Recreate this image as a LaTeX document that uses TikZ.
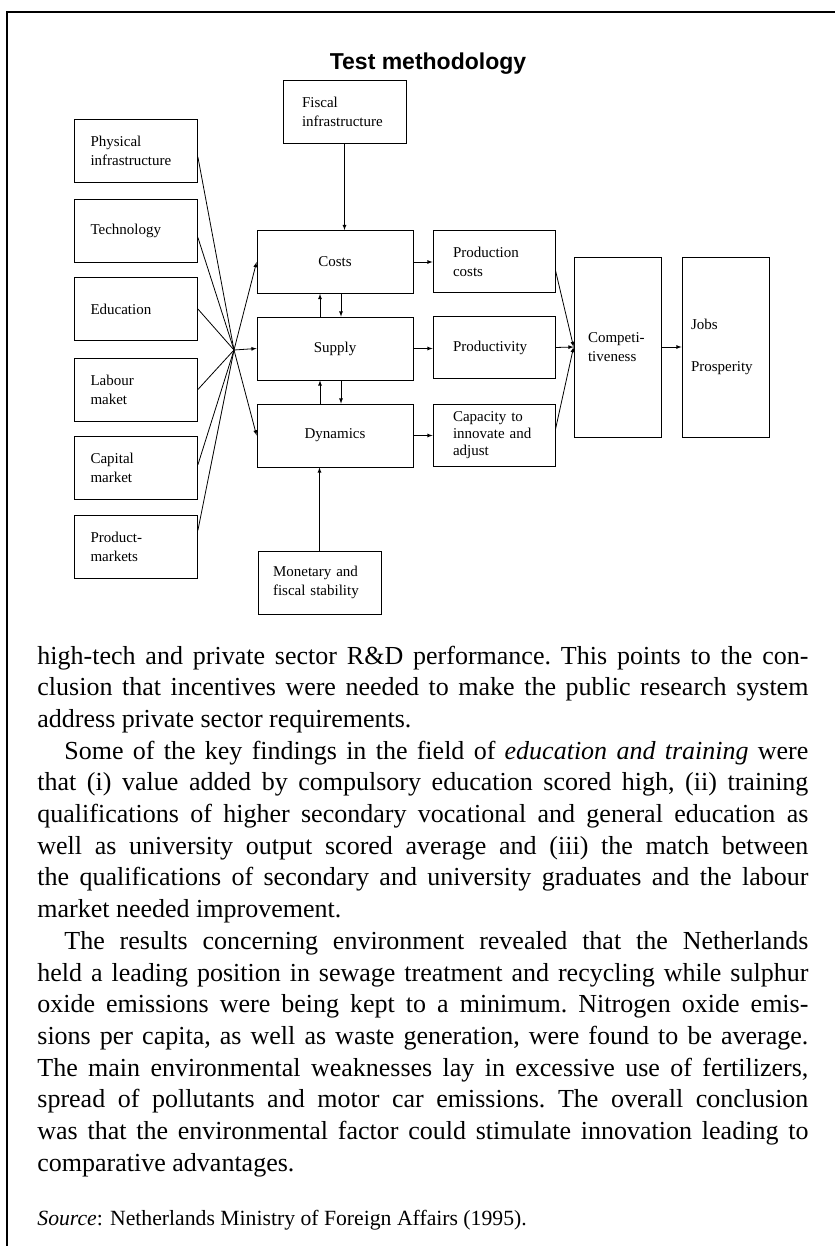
\documentclass[tikz,border=0pt]{standalone}
\usepackage{fontspec}
\setmainfont{Liberation Serif}
\newfontfamily\headfont{Liberation Sans}

\begin{document}
\begin{tikzpicture}[x=1pt, y=-1pt, line width=0.8pt,
	boxfont/.style={font=\fontsize{15}{19}\selectfont},
	factor/.style={draw, boxfont, minimum width=123pt, minimum height=63pt, text width=91pt, inner xsep=16pt, inner ysep=0pt, align=left},
	core/.style={draw, boxfont, minimum width=156pt, minimum height=63pt, align=center},
	result/.style={draw, boxfont, minimum width=122pt, minimum height=62pt, text width=82pt, inner xsep=20pt, inner ysep=0pt, align=left},
	sidebox/.style={draw, boxfont, minimum width=123pt, minimum height=63pt, inner ysep=0pt, align=left},
	tallbox/.style={draw, boxfont, minimum width=87pt, minimum height=180pt, inner ysep=0pt, align=left},
	arr/.style={-latex}]
	\useasboundingbox (0,0) rectangle (835,1246);

	% frame
	\draw[line width=1.4pt] (7,1246) -- (7,12) -- (835,12);
	\node[font=\headfont\bfseries\fontsize{23}{27}\selectfont, anchor=base] (title) at (428,70) {Test methodology};

	% (factors)
	\node[factor] (phys) at (136,150.5) {Physical\\infrastructure};
	\node[factor] (tech) at (136,231) {Technology};
	\node[factor] (edu) at (136,309) {Education};
	\node[factor] (lab) at (136,389.5) {Labour\\maket};
	\node[factor] (capm) at (136,468) {Capital\\market};
	\node[factor] (prodm) at (136,547) {Product-\\markets};
	\coordinate (hub) at (234,350);

	% (core)
	\node[sidebox, text width=85pt, inner xsep=19pt] (fisc) at (344.5,111.5) {Fiscal\\infrastructure};
	\node[core] (costs) at (335,262) {Costs};
	\node[core] (supply) at (335,348.5) {Supply};
	\node[core] (dyn) at (335,435.5) {Dynamics};
	\node[sidebox, text width=93pt, inner xsep=15pt] (mon) at (319.5,582.5) {Monetary and\\fiscal stability};

	% (results)
	\node[result] (pc) at (494,261.5) {Production\\costs};
	\node[result] (prodv) at (494,347.5) {Productivity};
	\node[result, font=\fontsize{15}{17}\selectfont] (capac) at (494,435) {Capacity to\\innovate and\\adjust};
	\node[tallbox, text width=59pt, inner xsep=14pt] (comp) at (617.5,347) {Competi-\\tiveness};
	\node[tallbox, text width=69pt, inner xsep=9pt] (jobs) at (725.5,347) {Jobs\\[23pt]Prosperity};

	\draw (phys.-6) -- (hub);
	\draw (tech.-6) -- (hub);
	\draw (edu.east) -- (hub);
	\draw (lab.east) -- (hub);
	\draw (capm.3) -- (hub);
	\draw (prodm.15) -- (hub);
	\draw[arr] (hub) -- (costs.west);
	\draw[arr] (hub) -- (supply.west);
	\draw[arr] (hub) -- (dyn.west);

	\draw[arr] (fisc.south) -- (fisc.south |- costs.north);
	\draw[arr] (mon.north) -- (mon.north |- dyn.south);
	\draw[arr] ([xshift=-15pt]supply.north) -- ([xshift=-15pt]costs.south);
	\draw[arr] ([xshift=6pt]costs.south) -- ([xshift=6pt]supply.north);
	\draw[arr] ([xshift=-15pt]dyn.north) -- ([xshift=-15pt]supply.south);
	\draw[arr] ([xshift=6pt]supply.south) -- ([xshift=6pt]dyn.north);

	\draw[arr] (costs.east) -- (costs.east -| pc.west);
	\draw[arr] (supply.east) -- (supply.east -| prodv.west);
	\draw[arr] (dyn.east) -- (dyn.east -| capac.west);
	\draw[arr] (pc.-8) -- (comp.west);
	\draw[arr] (prodv.east) -- (comp.west);
	\draw[arr] (capac.5) -- (comp.west);
	\draw[arr] (comp.east) -- (jobs.west);

	% text below
	\node[anchor=base west, inner sep=0pt, text width=771pt, align=justify, font=\fontsize{26}{31.7}\selectfont] (body) at (37,664) {\frenchspacing\hyphenpenalty=10000 \tolerance=9999
high-tech and private sector R\&D performance. This points to the con-\linebreak
clusion that incentives were needed to make the public research system\linebreak
address private sector requirements.\par
\hspace*{27pt}Some of the key findings in the field of \textit{education and training} were\linebreak
that (i) value added by compulsory education scored high, (ii) training\linebreak
qualifications of higher secondary vocational and general education as\linebreak
well as university output scored average and (iii) the match between\linebreak
the qualifications of secondary and university graduates and the labour\linebreak
market needed improvement.\par
\hspace*{27pt}The results concerning environment revealed that the Netherlands\linebreak
held a leading position in sewage treatment and recycling while sulphur\linebreak
oxide emissions were being kept to a minimum. Nitrogen oxide emis-\linebreak
sions per capita, as well as waste generation, were found to be average.\linebreak
The main environmental weaknesses lay in excessive use of fertilizers,\linebreak
spread of pollutants and motor car emissions. The overall conclusion\linebreak
was that the environmental factor could stimulate innovation leading to\linebreak
comparative advantages.};
	\node[anchor=base west, inner sep=0pt, font=\fontsize{21.7}{26}\selectfont] (src) at (37,1225) {\textit{Source}: Netherlands Ministry of Foreign Affairs (1995).};

\end{tikzpicture}
\end{document}
